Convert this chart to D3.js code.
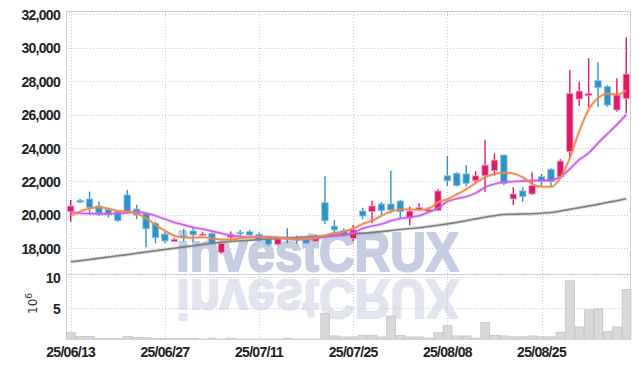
<!DOCTYPE html>
<html>
<head>
<meta charset="utf-8">
<script src="https://cdn.jsdelivr.net/npm/d3@7"></script>
<style>
  body { margin: 0; background: #fff; }
  svg { display: block; font-family: "Liberation Sans Narrow", "Liberation Sans", Arial, sans-serif; }
  .lbl text { font-weight: bold; fill: #222; font-size: 14px; letter-spacing: -0.7px; }
</style>
</head>
<body>
<svg id="chart" width="639" height="368"></svg>
<script>
// ---------- Data ----------
const dates = [
  "25/06/13","25/06/16","25/06/17","25/06/18","25/06/19","25/06/20","25/06/23","25/06/24","25/06/25","25/06/26",
  "25/06/27","25/06/30","25/07/01","25/07/02","25/07/03","25/07/04","25/07/07","25/07/08","25/07/09","25/07/10",
  "25/07/11","25/07/14","25/07/15","25/07/16","25/07/17","25/07/18","25/07/21","25/07/22","25/07/23","25/07/24",
  "25/07/25","25/07/28","25/07/29","25/07/30","25/07/31","25/08/01","25/08/04","25/08/05","25/08/06","25/08/07",
  "25/08/08","25/08/11","25/08/12","25/08/13","25/08/14","25/08/18","25/08/19","25/08/20","25/08/21","25/08/22",
  "25/08/25","25/08/26","25/08/27","25/08/28","25/08/29","25/09/01","25/09/02","25/09/03","25/09/04","25/09/05"
];
const open = [
  20190,20860,20950,20530,20330,20190,21190,20350,20060,19500,
  18850,18400,18760,19040,18800,18880,17740,18660,18960,18990,
  18840,18560,18240,18640,18620,18560,18420,20730,19330,19060,
  18580,20230,20190,20650,20650,20830,19810,20330,20210,20250,
  22340,22490,22450,22040,22340,22640,23580,20950,21430,21250,
  22280,22730,22280,23780,26930,27130,28030,27670,26270,26950
];
const high = [
  20890,20950,21390,20800,20400,20230,21490,20600,20090,19590,
  18990,18620,19170,19270,18990,18950,18400,19000,19100,19100,
  18960,18660,18650,19200,18750,18660,18830,22330,19690,19200,
  19390,20430,20850,20770,22640,20890,20490,20690,20450,21530,
  23520,22550,22980,22630,24480,23680,23580,21650,21650,22550,
  22450,22790,23330,28670,27970,29370,29130,27770,28170,30620
];
const low = [
  19590,20690,19990,19950,19830,19590,20090,19740,18060,18300,
  18300,18400,18400,18380,18700,18220,17660,18400,18750,18740,
  18400,18140,18170,18300,18270,18260,18400,19440,18800,18700,
  18400,19740,19500,19990,20090,19800,19380,20250,20150,20230,
  21730,21690,21690,21890,21390,22340,21790,20590,20790,21190,
  21690,21690,22250,23480,26510,26440,26470,26470,26170,26080
];
const close = [
  20530,20820,20430,20110,20020,19650,20170,19990,19170,18630,
  18440,18540,18720,18800,18860,18270,18300,18840,18900,18800,
  18500,18240,18560,18580,18500,18300,18740,19650,19100,18810,
  19100,19930,20530,20250,20290,20190,20230,20450,20330,21430,
  22040,21750,21890,22340,22980,23280,21890,21250,21090,21750,
  21990,21990,23220,27270,27410,27270,27610,26570,27170,28430
];
// volume, millions of shares
const volume = [
  1.13,0.48,0.48,0.16,0.16,0.16,0.48,0.30,0.30,0.16,
  0.12,0.12,0.12,0.12,0.05,0.20,0.06,0.20,0.05,0.05,
  0.05,0.05,0.05,0.20,0.05,0.05,0.05,4.19,0.55,0.38,
  0.38,0.64,0.64,0.38,3.76,0.64,0.38,0.38,0.20,1.10,
  2.20,0.55,0.55,0.20,2.72,0.64,0.55,0.40,0.40,0.55,
  0.40,0.40,1.15,9.45,2.00,4.75,4.90,1.25,2.00,8.05
];
const maShort = [
  19950,20200,20380,20450,20380,20250,20200,20080,19800,19400,
  19050,18750,18650,18640,18660,18600,18520,18520,18600,18650,
  18700,18670,18630,18580,18540,18560,18640,18760,18900,18990,
  19180,19450,19650,19950,20200,20320,20350,20300,20370,20750,
  20930,21230,21530,21900,22250,22450,22520,22480,22250,21850,
  21680,21680,22200,23400,25000,26300,27000,27250,27200,27450
];
const maMid = [
  20180,20100,20080,20060,20060,20080,20120,20180,20100,19950,
  19750,19550,19400,19250,19150,19020,18900,18760,18700,18660,
  18680,18670,18650,18600,18520,18540,18580,18680,18740,18790,
  18930,19180,19330,19450,19640,19780,19860,19950,20150,20400,
  20800,20970,21090,21300,21650,21850,21950,22000,22020,22050,
  22060,22080,22280,22750,23300,23700,24300,24850,25400,26000
];
const maLong = [
  17200,17250,17330,17400,17480,17550,17620,17700,17780,17850,
  17930,18000,18080,18150,18230,18300,18360,18410,18450,18480,
  18520,18560,18590,18620,18650,18680,18700,18740,18780,18820,
  18860,18900,18950,19000,19060,19120,19180,19230,19300,19380,
  19460,19550,19650,19760,19860,19950,20020,20040,20050,20070,
  20100,20140,20230,20330,20430,20530,20630,20740,20850,20970
];
const priceTicks = [18000, 20000, 22000, 24000, 26000, 28000, 30000, 32000];
const volumeTicks = [5, 10];
const dateTicks = ["25/06/13","25/06/27","25/07/11","25/07/25","25/08/08","25/08/25"];

// ---------- Layout ----------
const svg = d3.select("#chart");
const plotL = 66, plotR = 631, plotT = 12, split = 274, plotB = 339.3;

const x = d3.scaleBand().domain(dates).range([plotL, plotR]).padding(0);
const y = d3.scaleLinear().domain([16462, 32138]).range([split, plotT]);
const yv = d3.scaleLinear().domain([0, 10.53]).range([plotB, split]);
const bw = x.bandwidth();
const cx = d => x(d) + bw / 2;

const gridColor = "#c3c9de";

// ---------- Grid ----------
const grid = svg.append("g");
grid.selectAll("line.hp").data(priceTicks).join("line")
  .attr("x1", plotL).attr("x2", plotR)
  .attr("y1", d => Math.round(y(d)) + 0.5).attr("y2", d => Math.round(y(d)) + 0.5)
  .attr("stroke", gridColor).attr("stroke-dasharray", "1,2");
grid.selectAll("line.hv").data(volumeTicks).join("line")
  .attr("x1", plotL).attr("x2", plotR)
  .attr("y1", d => Math.round(yv(d)) + 0.5).attr("y2", d => Math.round(yv(d)) + 0.5)
  .attr("stroke", gridColor).attr("stroke-dasharray", "1,2");
grid.selectAll("line.v").data(dateTicks).join("line")
  .attr("x1", d => Math.round(cx(d)) + 0.5).attr("x2", d => Math.round(cx(d)) + 0.5)
  .attr("y1", plotT).attr("y2", plotB)
  .attr("stroke", gridColor).attr("stroke-dasharray", "1,2");

// ---------- Watermark (with mirrored reflection) ----------
const wm = svg.append("g").attr("font-family", "'Liberation Sans', Arial, sans-serif")
  .attr("font-weight", "bold").attr("font-size", 56)
  .attr("stroke-width", 2.2).attr("stroke-linejoin", "round");
wm.append("text").attr("x", 176).attr("y", 271)
  .attr("textLength", 283).attr("lengthAdjust", "spacingAndGlyphs")
  .attr("fill", "#c6cde2").attr("stroke", "#c6cde2").text("investCRUX");
wm.append("text").attr("x", 176).attr("y", 271)
  .attr("transform", "translate(0,551) scale(1,-1)")
  .attr("textLength", 283).attr("lengthAdjust", "spacingAndGlyphs")
  .attr("fill", "#c6cde2").attr("stroke", "#c6cde2").attr("opacity", 0.5).text("investCRUX");

// ---------- Frame ----------
const frame = svg.append("g").attr("stroke", "#cfcfcf").attr("fill", "none");
frame.append("line").attr("x1", plotL + 0.5).attr("x2", plotL + 0.5).attr("y1", plotT).attr("y2", plotB);
frame.append("line").attr("x1", plotR - 0.5).attr("x2", plotR - 0.5).attr("y1", plotT).attr("y2", plotB);
frame.append("line").attr("x1", plotL).attr("x2", plotR).attr("y1", plotT - 0.5).attr("y2", plotT - 0.5);
frame.append("line").attr("x1", plotL).attr("x2", plotR).attr("y1", split + 0.5).attr("y2", split + 0.5);

// ---------- Volume ----------
svg.append("g").selectAll("rect").data(dates).join("rect")
  .attr("x", d => x(d) + 0.5)
  .attr("width", bw - 0.5)
  .attr("y", (d, i) => yv(volume[i]))
  .attr("height", (d, i) => plotB - yv(volume[i]))
  .attr("fill", "#d8d8d8").attr("stroke", "#bdbdbd").attr("stroke-width", 0.6);

// ---------- Candles ----------
const up = "#e0186a", down = "#2e93c8";
const colorOf = i => close[i] >= open[i] ? up : down;
const candles = svg.append("g");
candles.selectAll("line").data(dates).join("line")
  .attr("x1", cx).attr("x2", cx)
  .attr("y1", (d, i) => y(high[i])).attr("y2", (d, i) => y(low[i]))
  .attr("stroke", (d, i) => colorOf(i)).attr("stroke-width", 1.4);
candles.selectAll("rect").data(dates).join("rect")
  .attr("x", d => cx(d) - 3.2)
  .attr("width", 6.4)
  .attr("y", (d, i) => y(Math.max(open[i], close[i])))
  .attr("height", (d, i) => Math.max(1.6, Math.abs(y(open[i]) - y(close[i]))))
  .attr("fill", (d, i) => colorOf(i))
  .attr("stroke", (d, i) => close[i] >= open[i] ? "#f4a9c8" : "#8cc3e2")
  .attr("stroke-width", 0.8);

// ---------- Moving averages ----------
const line = d3.line().x((d, i) => cx(dates[i])).y(d => y(d)).curve(d3.curveMonotoneX);
[[maLong, "#7d7d7d"], [maMid, "#cc5bef"], [maShort, "#f0884c"]].forEach(([s, c]) => {
  svg.append("path").attr("d", line(s)).attr("fill", "none")
    .attr("stroke", c).attr("stroke-opacity", 0.25).attr("stroke-width", 3.5);
  svg.append("path").attr("d", line(s)).attr("fill", "none")
    .attr("stroke", c).attr("stroke-width", 1.6);
});

// ---------- Axes ----------
const yAxis = svg.append("g").attr("class", "lbl").attr("transform", `translate(${plotL - 6},0)`)
  .call(d3.axisLeft(y).tickValues(priceTicks).tickFormat(d3.format(",")).tickSize(0));
const vAxis = svg.append("g").attr("class", "lbl").attr("transform", `translate(${plotL - 6},0)`)
  .call(d3.axisLeft(yv).tickValues(volumeTicks).tickSize(0));
const xAxis = svg.append("g").attr("class", "lbl").attr("transform", `translate(0,${plotB + 5})`)
  .call(d3.axisBottom(x).tickValues(dateTicks).tickSize(0));
[yAxis, vAxis, xAxis].forEach(a => a.select(".domain").remove());
[yAxis, vAxis].forEach(a => a.selectAll("text").attr("dy", "0.36em").attr("x", 0));

// 10^6 unit label
const unit = svg.append("text").attr("transform", "translate(37,314) rotate(-90)")
  .attr("font-family", "'DejaVu Sans', sans-serif").attr("font-size", 12).attr("fill", "#333");
unit.append("tspan").text("10");
unit.append("tspan").attr("dy", -5).attr("font-size", 9).text("6");
</script>
</body>
</html>
